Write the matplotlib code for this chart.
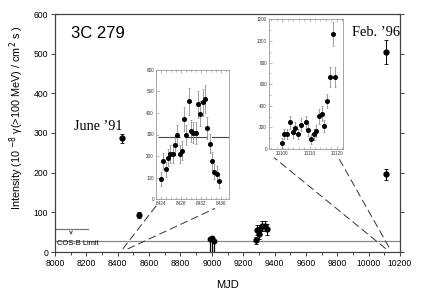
import matplotlib
matplotlib.use("Agg")
import matplotlib.pyplot as plt
import numpy as np

plt.rcParams['font.family'] = ['Liberation Sans', 'DejaVu Sans']

# ---------------- data ----------------
# main panel detections
main_mjd = [8429, 8538, 9280, 9287, 9298, 9307, 9318, 9338, 9352, 10113, 10111]
main_flux = [287, 93, 29, 55, 45, 57, 65, 65, 57, 505, 196]
main_err = [11, 8, 10, 12, 11, 12, 13, 13, 14, 30, 14]
# main panel upper limits (near MJD 9000)
ul_mjd = [8988, 9001, 9014]
ul_flux = [33, 35, 28]
# COS-B limit
cosb_level = 58
cosb_x = [8000, 8208]
ref_level = 28

# inset 1 (June '91)
in1_mjd = [8423.9, 8424.4, 8424.9, 8425.3, 8425.8, 8426.3, 8426.7, 8427.2, 8427.7,
           8428.1, 8428.5, 8429.0, 8429.5, 8429.9, 8430.4, 8430.9, 8431.3, 8431.8,
           8432.3, 8432.7, 8433.2, 8433.7, 8434.1, 8434.6, 8435.1, 8435.5]
in1_flux = [92, 176, 138, 193, 210, 210, 249, 298, 210, 225, 373, 298, 455, 316,
            309, 306, 440, 396, 449, 465, 330, 258, 177, 126, 118, 82]
in1_err = [33, 38, 35, 40, 42, 42, 45, 48, 42, 44, 55, 48, 63, 50, 50, 50, 62, 58,
           62, 64, 52, 46, 40, 35, 35, 32]
in1_mean = 288

# inset 2 (Feb '96)
in2_mjd = [10100.0, 10100.7, 10101.6, 10102.8, 10103.8, 10104.8, 10105.8, 10106.8,
           10108.6, 10109.6, 10110.7, 10111.7, 10112.5, 10113.5, 10114.6, 10115.4,
           10116.4, 10117.4, 10118.5, 10119.4]
in2_flux = [53, 138, 138, 246, 154, 197, 138, 225, 246, 178, 90, 136, 169, 302,
            326, 212, 443, 668, 1065, 668]
in2_err = [45, 50, 50, 60, 50, 55, 50, 60, 60, 55, 45, 50, 55, 70, 70, 55, 65,
           95, 111, 95]

# ---------------- figure ----------------
fig = plt.figure(figsize=(4.36, 2.92), dpi=100)
W, H = 436.0, 292.0

def rect(l, t, r, b):
    return [l / W, 1 - b / H, (r - l) / W, (b - t) / H]

ax = fig.add_axes(rect(55, 14, 400, 252))
spc = '#444444'
for s in ax.spines.values():
    s.set_color(spc)
    s.set_linewidth(0.9)
ax.set_xlim(8000, 10200)
ax.set_ylim(0, 600)
ax.set_xticks(np.arange(8000, 10201, 200))
ax.set_xticks(np.arange(8000, 10201, 100), minor=True)
ax.set_yticks(np.arange(0, 601, 100))
ax.tick_params(axis='both', which='both', direction='out', colors=spc,
               labelcolor='black', labelsize=6.2, width=0.7, pad=2)
ax.tick_params(which='major', length=3)
ax.tick_params(which='minor', length=2)
ax.tick_params(axis='y', right=True)
ax.set_xlabel('MJD', fontsize=8, labelpad=9)

fig.text(17 / W, 1 - 118 / H,
         'Intensity (10 $^{-8}$ \u03b3(>100 MeV) / cm$^{2}$ s )',
         rotation=90, va='center', ha='center', fontsize=7.8)

ax.axhline(ref_level, color='#888888', lw=0.9)
ax.plot(cosb_x, [cosb_level, cosb_level], color='#777777', lw=0.9)
ax.annotate('', xy=(8102, 36), xytext=(8102, cosb_level),
            arrowprops=dict(arrowstyle='->', color='#555555', lw=0.7,
                            mutation_scale=5))
ax.text(8012, 22, 'COS-B Limit', fontsize=5.4, va='center', ha='left')

ax.errorbar(main_mjd, main_flux, yerr=main_err, fmt='o', color='black',
            ms=3.5, elinewidth=0.7, capsize=1.2, capthick=0.6)
ax.errorbar(ul_mjd, ul_flux, yerr=[ul_flux, [5] * len(ul_flux)], fmt='o',
            color='black', ms=3.2, elinewidth=0.9, capsize=0)

ax.text(8100, 540, '3C 279', fontsize=12)
ax.text(8121, 307, 'June \u201991', fontsize=10.2, family=['Liberation Serif'])
ax.text(9892, 545, 'Feb. \u201996', fontsize=10.4, family=['Liberation Serif'],
        clip_on=False)

# connector dashed lines (main data coords)
lk = dict(color='#333333', lw=0.7, dashes=(8, 4), clip_on=False)
ax.plot([8432, 8648], [7.6, 118], **lk)
ax.plot([8463, 9020], [7.6, 110], **lk)
ax.plot([10109, 9397], [8.3, 238], **lk)
ax.plot([10130, 9813], [11.8, 234], **lk)

def style_inset(a):
    for s in a.spines.values():
        s.set_color('#999999')
        s.set_linewidth(0.6)
    a.tick_params(axis='both', which='both', direction='in', labelsize=3.3,
                  colors='#888888', labelcolor='#333333', width=0.4, pad=1.5)
    a.tick_params(which='major', length=2)
    a.tick_params(which='minor', length=1.2)
    a.tick_params(top=True, which='both')

# inset 1
a1 = fig.add_axes(rect(156, 70, 229, 199))
style_inset(a1)
a1.set_xlim(8422.9, 8437.5)
a1.set_ylim(0, 600)
a1.set_xticks([8424, 8428, 8432, 8436])
a1.set_xticks(np.arange(8423, 8438, 1), minor=True)
a1.set_yticks(np.arange(0, 601, 100))
a1.plot([8423.3, 8437.5], [in1_mean, in1_mean], color='#444444', lw=0.8,
        dashes=(20, 4))
a1.errorbar(in1_mjd, in1_flux, yerr=in1_err, fmt='o', color='black', ms=2.6,
            ecolor='#777777', elinewidth=0.5, capsize=1.0, capthick=0.4)

# inset 2
a2 = fig.add_axes(rect(269, 19.3, 343, 149))
style_inset(a2)
a2.set_xlim(10095.1, 10122.3)
a2.set_ylim(0, 1200)
a2.set_xticks([10100, 10110, 10120])
a2.set_xticks(np.arange(10096, 10123, 2), minor=True)
a2.set_yticks(np.arange(0, 1201, 200))
a2.set_yticks(np.arange(0, 1201, 100), minor=True)
a2.errorbar(in2_mjd, in2_flux, yerr=in2_err, fmt='o', color='black', ms=2.6,
            ecolor='#777777', elinewidth=0.5, capsize=1.0, capthick=0.4)

fig.savefig('out.png', dpi=100)
